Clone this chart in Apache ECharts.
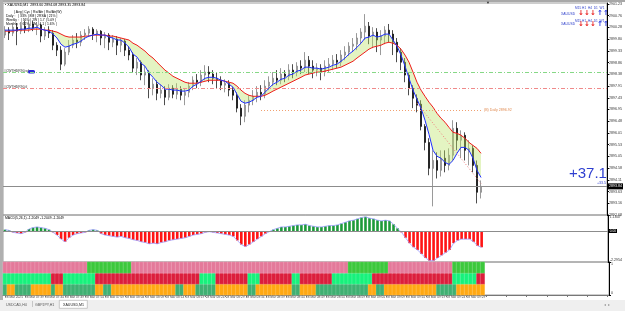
<!DOCTYPE html>
<html>
<head>
<meta charset="utf-8">
<script src="https://cdn.jsdelivr.net/npm/echarts@6/dist/echarts.min.js"></script>
<style>
html, body { margin: 0; padding: 0; background: #fff; }
#chart { width: 625px; height: 311px; }
</style>
</head>
<body>
<div id="chart"></div>
<script>
// ---- data ----
const priceMin = 2892.68, priceMax = 2901.27, priceStep = 0.475;

// [open, close, low, high]
const candles = [
  [2899.97, 2900.17, 2899.85, 2900.33], [2900.17, 2900.05, 2899.77, 2900.29], [2900.05, 2900.29, 2899.93, 2900.42],
  [2900.29, 2900.13, 2899.56, 2900.46], [2900.13, 2900.33, 2900.01, 2900.50], [2900.33, 2900.21, 2900.05, 2900.54],
  [2900.21, 2900.42, 2900.09, 2900.58], [2900.42, 2900.25, 2900.13, 2900.54], [2900.25, 2900.38, 2899.97, 2900.50],
  [2900.38, 2899.93, 2899.68, 2900.42], [2899.93, 2900.17, 2899.77, 2900.29], [2900.17, 2900.05, 2899.85, 2900.33],
  [2900.05, 2899.56, 2899.36, 2900.17], [2899.56, 2899.36, 2899.12, 2899.68], [2899.36, 2898.79, 2898.55, 2899.52],
  [2898.79, 2899.28, 2898.71, 2899.44], [2899.28, 2899.56, 2899.16, 2899.77], [2899.56, 2899.77, 2899.44, 2899.97],
  [2899.77, 2899.68, 2899.44, 2900.05], [2899.68, 2899.97, 2899.52, 2900.13], [2899.97, 2900.05, 2899.77, 2900.21],
  [2900.05, 2900.21, 2899.89, 2900.33], [2900.21, 2900.01, 2899.77, 2900.29], [2900.01, 2900.13, 2899.68, 2900.21],
  [2900.13, 2899.85, 2899.56, 2900.17], [2899.85, 2899.97, 2899.44, 2900.09], [2899.97, 2899.68, 2899.36, 2900.05],
  [2899.68, 2899.81, 2899.48, 2899.97], [2899.81, 2899.56, 2899.16, 2899.93], [2899.56, 2899.73, 2899.28, 2899.85],
  [2899.73, 2899.36, 2899.12, 2899.81], [2899.36, 2899.16, 2898.95, 2899.52], [2899.16, 2898.63, 2898.47, 2899.28],
  [2898.63, 2898.87, 2898.35, 2899.04], [2898.87, 2898.35, 2898.14, 2898.95], [2898.35, 2898.47, 2897.94, 2898.71],
  [2898.47, 2897.82, 2897.41, 2898.55], [2897.82, 2897.98, 2897.53, 2898.22], [2897.98, 2897.61, 2897.33, 2898.14],
  [2897.61, 2897.74, 2897.41, 2897.94], [2897.74, 2897.45, 2897.13, 2897.90], [2897.45, 2897.82, 2897.33, 2897.98],
  [2897.82, 2897.57, 2897.41, 2897.94], [2897.57, 2897.78, 2897.37, 2898.02], [2897.78, 2897.53, 2897.33, 2897.90],
  [2897.53, 2897.65, 2897.13, 2897.82], [2897.65, 2897.90, 2897.45, 2898.06], [2897.90, 2898.14, 2897.74, 2898.30],
  [2898.14, 2898.06, 2897.82, 2898.39], [2898.06, 2898.35, 2897.90, 2898.55], [2898.35, 2898.47, 2898.14, 2898.75],
  [2898.47, 2898.39, 2898.06, 2898.71], [2898.39, 2898.22, 2897.98, 2898.55], [2898.22, 2898.14, 2897.82, 2898.47],
  [2898.14, 2897.94, 2897.74, 2898.30], [2897.94, 2898.02, 2897.65, 2898.18], [2898.02, 2897.74, 2897.49, 2898.14],
  [2897.74, 2897.53, 2897.33, 2897.86], [2897.53, 2897.01, 2896.84, 2897.65], [2897.01, 2896.68, 2896.32, 2897.17],
  [2896.68, 2897.13, 2896.44, 2897.33], [2897.13, 2897.33, 2896.84, 2897.53], [2897.33, 2897.49, 2897.13, 2897.74],
  [2897.49, 2897.65, 2897.25, 2897.90], [2897.65, 2897.57, 2897.33, 2897.94], [2897.57, 2897.90, 2897.41, 2898.14],
  [2897.90, 2898.06, 2897.74, 2898.30], [2898.06, 2898.22, 2897.90, 2898.47], [2898.22, 2898.14, 2897.94, 2898.55],
  [2898.14, 2898.39, 2897.98, 2898.63], [2898.39, 2898.30, 2898.06, 2898.55], [2898.30, 2898.55, 2898.14, 2898.79],
  [2898.55, 2898.47, 2898.22, 2898.79], [2898.47, 2898.71, 2898.30, 2898.87], [2898.71, 2898.63, 2898.39, 2898.95],
  [2898.63, 2898.95, 2898.47, 2899.28], [2898.95, 2898.71, 2898.39, 2899.12], [2898.71, 2898.55, 2898.22, 2898.95],
  [2898.55, 2898.63, 2898.30, 2898.83], [2898.63, 2898.47, 2898.14, 2898.79], [2898.47, 2898.71, 2898.30, 2898.95],
  [2898.71, 2898.79, 2898.47, 2899.04], [2898.79, 2898.95, 2898.55, 2899.16], [2898.95, 2898.87, 2898.63, 2899.20],
  [2898.87, 2899.16, 2898.71, 2899.36], [2899.16, 2899.28, 2898.95, 2899.52], [2899.28, 2899.52, 2899.12, 2899.68],
  [2899.52, 2899.60, 2899.28, 2899.85], [2899.60, 2899.85, 2899.36, 2900.05], [2899.85, 2900.09, 2899.60, 2900.25],
  [2900.09, 2900.33, 2899.77, 2900.82], [2900.33, 2899.93, 2899.60, 2900.50], [2899.93, 2900.09, 2899.44, 2900.29],
  [2900.09, 2899.77, 2899.28, 2900.25], [2899.77, 2899.93, 2899.16, 2900.17], [2899.93, 2900.17, 2899.60, 2900.33],
  [2900.17, 2900.01, 2899.68, 2900.42], [2900.01, 2899.68, 2899.16, 2900.17], [2899.68, 2899.28, 2898.87, 2899.85],
  [2899.28, 2898.87, 2898.55, 2899.44], [2898.87, 2898.35, 2898.06, 2899.04], [2898.35, 2897.82, 2897.53, 2898.47],
  [2897.82, 2897.41, 2897.01, 2897.94], [2897.41, 2897.13, 2896.84, 2897.57], [2897.17, 2896.27, 2896.11, 2897.33],
  [2896.27, 2895.62, 2895.30, 2896.36], [2895.62, 2894.57, 2894.29, 2895.79], [2894.57, 2894.89, 2893.03, 2895.30],
  [2894.89, 2894.49, 2894.16, 2895.22], [2894.49, 2894.98, 2894.24, 2895.30], [2894.98, 2894.69, 2894.41, 2895.30],
  [2894.69, 2895.10, 2894.49, 2895.38], [2895.10, 2896.19, 2894.89, 2896.52], [2896.19, 2895.71, 2895.30, 2896.44],
  [2895.71, 2895.91, 2894.98, 2896.11], [2895.91, 2895.30, 2894.89, 2896.03], [2895.30, 2895.38, 2894.69, 2895.71],
  [2895.38, 2894.69, 2894.41, 2895.50], [2894.69, 2893.60, 2893.15, 2894.89], [2893.60, 2893.84, 2893.35, 2894.08]
];

const fastMa = [
  2900.17, 2900.17, 2900.17, 2900.17, 2900.21, 2900.21, 2900.25, 2900.25, 2900.29, 2900.21,
  2900.17, 2900.13, 2900.01, 2899.85, 2899.60, 2899.48, 2899.52, 2899.60, 2899.64, 2899.73,
  2899.85, 2899.93, 2899.97, 2900.01, 2899.97, 2899.97, 2899.89, 2899.85, 2899.77, 2899.77,
  2899.64, 2899.48, 2899.20, 2899.08, 2898.83, 2898.71, 2898.43, 2898.26, 2898.06, 2897.94,
  2897.78, 2897.78, 2897.74, 2897.74, 2897.70, 2897.70, 2897.74, 2897.90, 2897.98, 2898.10,
  2898.22, 2898.26, 2898.26, 2898.22, 2898.14, 2898.10, 2897.98, 2897.86, 2897.57, 2897.29,
  2897.21, 2897.25, 2897.33, 2897.45, 2897.49, 2897.65, 2897.82, 2897.98, 2898.06, 2898.18,
  2898.22, 2898.35, 2898.39, 2898.51, 2898.55, 2898.67, 2898.67, 2898.63, 2898.63, 2898.59,
  2898.63, 2898.67, 2898.75, 2898.79, 2898.91, 2899.04, 2899.20, 2899.32, 2899.48, 2899.64,
  2899.85, 2899.89, 2899.97, 2899.89, 2899.93, 2900.01, 2900.01, 2899.77, 2899.52, 2899.16,
  2898.71, 2898.22, 2897.74, 2897.37, 2897.01, 2896.52, 2895.95, 2895.30, 2895.06, 2894.98,
  2894.81, 2894.73, 2894.89, 2895.18, 2895.42, 2895.42, 2895.30, 2894.98, 2894.49, 2894.20
];

const slowMa = [
  2900.13, 2900.13, 2900.13, 2900.17, 2900.17, 2900.17, 2900.17, 2900.21, 2900.21, 2900.21,
  2900.17, 2900.17, 2900.13, 2900.09, 2900.01, 2899.93, 2899.89, 2899.89, 2899.89, 2899.89,
  2899.93, 2899.93, 2899.97, 2899.97, 2899.97, 2899.97, 2899.93, 2899.93, 2899.89, 2899.85,
  2899.81, 2899.77, 2899.64, 2899.56, 2899.44, 2899.32, 2899.16, 2899.04, 2898.87, 2898.71,
  2898.55, 2898.43, 2898.30, 2898.22, 2898.14, 2898.06, 2898.02, 2898.02, 2898.02, 2898.06,
  2898.10, 2898.14, 2898.14, 2898.14, 2898.14, 2898.10, 2898.06, 2898.02, 2897.90, 2897.74,
  2897.61, 2897.53, 2897.49, 2897.49, 2897.49, 2897.53, 2897.61, 2897.70, 2897.78, 2897.86,
  2897.94, 2898.02, 2898.10, 2898.18, 2898.26, 2898.35, 2898.39, 2898.43, 2898.47, 2898.47,
  2898.51, 2898.55, 2898.59, 2898.63, 2898.67, 2898.75, 2898.83, 2898.91, 2899.04, 2899.16,
  2899.28, 2899.40, 2899.48, 2899.52, 2899.56, 2899.64, 2899.68, 2899.64, 2899.56, 2899.40,
  2899.16, 2898.87, 2898.47, 2898.06, 2897.74, 2897.49, 2897.25, 2897.05, 2896.80, 2896.60,
  2896.44, 2896.23, 2896.03, 2895.99, 2895.91, 2895.79, 2895.62, 2895.50, 2895.38, 2895.18
];

const macdValues = [
  0.10, 0.05, -0.10, -0.15, -0.20, -0.10, 0.15, 0.25, 0.30, 0.25,
  0.20, 0.10, -0.10, -0.30, -0.60, -0.80, -0.50, -0.30, -0.20, -0.15,
  -0.10, 0.05, 0.10, 0.05, -0.20, -0.30, -0.35, -0.40, -0.45, -0.40,
  -0.50, -0.55, -0.65, -0.70, -0.80, -0.85, -0.95, -0.90, -0.95, -0.85,
  -0.80, -0.70, -0.65, -0.60, -0.55, -0.50, -0.40, -0.30, -0.25, -0.20,
  -0.10, -0.05, -0.10, -0.15, -0.20, -0.25, -0.30, -0.40, -0.70, -1.00,
  -1.15, -1.00, -0.80, -0.60, -0.40, -0.20, -0.05, 0.10, 0.20, 0.30,
  0.30, 0.35, 0.40, 0.45, 0.45, 0.50, 0.40, 0.35, 0.30, 0.30,
  0.35, 0.40, 0.40, 0.45, 0.55, 0.65, 0.75, 0.80, 0.90, 1.00,
  1.05, 0.95, 0.90, 0.80, 0.75, 0.80, 0.75, 0.50, 0.20, -0.10,
  -0.50, -0.90, -1.20, -1.40, -1.70, -2.00, -2.20, -2.20, -2.00, -1.80,
  -1.60, -1.40, -0.90, -0.70, -0.60, -0.60, -0.60, -0.80, -1.10, -1.2049
];
const macdTop = 1.1847, macdBottom = -2.2954;

// signal rows of the bottom window, 1 = second colour
const heatRow1 = [
  0,0,0,0,0,0,0,0,0,0, 0,0,0,0,0,0,0,0,0,0, 0,1,1,1,1,1,1,1,1,1, 1,1,0,0,0,0,0,0,0,0,
  0,0,0,0,0,0,0,0,0,0, 0,0,0,0,0,0,0,0,0,0, 0,0,0,0,0,0,0,0,0,0, 0,0,0,0,0,0,0,0,0,0,
  0,0,0,0,0,0,1,1,1,1, 1,1,1,1,1,1,0,0,0,0, 0,0,0,0,0,0,0,0,0,0, 0,0,1,1,1,1,1,1,1,1
];
const heatRow2 = [
  1,1,1,1,1,1,1,1,1,1, 1,1,0,0,0,1,1,1,1,1, 1,1,1,0,0,0,0,0,0,0, 0,0,0,0,0,0,0,0,0,0,
  0,0,0,0,0,0,0,0,0,1, 1,1,1,0,0,0,0,0,0,0, 0,1,1,1,0,0,0,0,0,0, 0,0,1,1,0,0,0,0,0,0,
  0,0,1,1,1,1,1,1,1,1, 1,1,0,0,0,0,0,0,0,0, 0,0,0,0,0,0,0,0,0,0, 0,0,1,1,1,1,1,1,0,0
];
const heatRow3 = [
  0,1,1,0,0,0,0,1,1,1, 1,1,0,1,1,0,0,0,0,0, 0,0,0,1,1,0,0,1,1,1, 1,1,1,1,1,1,1,1,1,1,
  1,1,1,0,0,1,1,1,0,0, 0,0,0,1,1,1,1,1,1,1, 1,0,0,1,1,1,1,1,1,1, 1,1,0,0,1,1,1,1,0,0,
  0,0,0,0,0,0,0,0,0,0, 0,1,1,0,0,1,1,1,1,1, 1,1,1,1,1,1,1,1,0,0, 0,0,0,1,1,1,1,1,1,1
];

// one time label every 5 bars
const timeLabels = [
  '28 Mar 2025', '28 Mar 07:39', '28 Mar 07:44', '28 Mar 07:49', '28 Mar 07:54', '28 Mar 07:59',
  '28 Mar 08:04', '28 Mar 08:09', '28 Mar 08:14', '28 Mar 08:19', '28 Mar 08:24', '28 Mar 08:29',
  '28 Mar 08:34', '28 Mar 08:39', '28 Mar 08:44', '28 Mar 08:49', '28 Mar 08:54', '28 Mar 08:59',
  '28 Mar 09:04', '28 Mar 09:09', '28 Mar 09:14', '28 Mar 09:19', '28 Mar 09:24', '28 Mar 09:29'
];

const levelGreen = 2898.47, levelRed = 2897.82, levelOrange = 2896.92, lastPrice = 2893.84;
// dotted trend line drawn on the fall: [bar, price] at both ends
const trendStart = [103, 2897.21], trendEnd = [119, 2893.96];
const totalSlots = 151;   // bars + empty chart shift on the right

// ---- build ----
const FONT = 'Liberation Sans';
const slots = [];
for (let i = 0; i < totalSlots; i++) {
  slots.push(i % 5 === 0 && i / 5 < timeLabels.length ? timeLabels[i / 5] : '');
}

const ribbonLow = fastMa.map((v, i) => Math.min(v, slowMa[i]));
const ribbonGap = fastMa.map((v, i) => Math.abs(v - slowMa[i]));

const heatData = [];
const rows = [heatRow3, heatRow2, heatRow1];
rows.forEach((row, r) => {
  row.forEach((v, i) => heatData.push([i, r, (2 - r) * 2 + v]));
});
const heatColors = ['#e4799a', '#3cc83c', '#dc1e3c', '#17f27c', '#3fb072', '#ffa812'];

function txt(x, y, text, size, color, family, weight) {
  return {
    type: 'text', left: x, top: y, silent: true,
    style: {
      text: text, fontSize: size, fill: color || '#000',
      fontFamily: family || FONT, fontWeight: weight || 'normal'
    }
  };
}

// trend arrows: three red down, two blue up, for each row
function arrowRow(y) {
  const out = [];
  [578, 584, 590].forEach(x => out.push(txt(x, y, '↓', 7, '#e81c1c', 'DejaVu Sans', 'bold')));
  [597, 603].forEach(x => out.push(txt(x, y, '↑', 7, '#2030e0', 'DejaVu Sans', 'bold')));
  return out;
}

const chart = echarts.init(document.getElementById('chart'));

const option = {
  animation: false,
  backgroundColor: '#fff',
  grid: [
    { left: 3, right: 16, top: 3, height: 212, show: true, borderColor: '#9c9c9c', borderWidth: 1 },
    { left: 3, right: 16, top: 215, height: 47, show: true, borderColor: '#9c9c9c', borderWidth: 1 },
    { left: 3, right: 16, top: 262, height: 33, show: true, borderColor: '#9c9c9c', borderWidth: 1 }
  ],
  xAxis: [0, 1, 2].map(g => ({
    type: 'category', gridIndex: g, data: slots, boundaryGap: true,
    axisLine: { show: g === 2, lineStyle: { color: '#777' } },
    axisTick: { show: g === 2, interval: 4, alignWithLabel: true, length: 2, lineStyle: { color: '#777' } },
    axisLabel: {
      show: g === 2, interval: 0, align: 'left', margin: 1,
      fontSize: 3.2, color: '#444', fontFamily: FONT
    },
    splitLine: { show: false }
  })),
  yAxis: [
    {
      type: 'value', gridIndex: 0, position: 'right', min: priceMin, max: priceMax, interval: priceStep,
      axisLine: { show: true, lineStyle: { color: '#000' } },
      axisTick: { show: true, length: 2, lineStyle: { color: '#000' } },
      axisLabel: {
        fontSize: 3.6, color: '#333', margin: 2, fontFamily: FONT, showMaxLabel: false,
        formatter: v => v.toFixed(2)
      },
      splitLine: { show: false }
    },
    {
      type: 'value', gridIndex: 1, position: 'right', min: macdBottom, max: macdTop,
      interval: macdTop - macdBottom,
      axisLine: { show: true, lineStyle: { color: '#000' } },
      axisTick: { show: true, length: 2, lineStyle: { color: '#000' } },
      axisLabel: {
        fontSize: 3.6, color: '#333', margin: 2, fontFamily: FONT,
        verticalAlignMaxLabel: 'top', verticalAlignMinLabel: 'bottom',
        formatter: v => v.toFixed(4)
      },
      splitLine: { show: false }
    },
    {
      type: 'category', gridIndex: 2, data: ['r3', 'r2', 'r1'],
      axisLine: { show: false }, axisTick: { show: false }, axisLabel: { show: false }
    },
    {
      type: 'value', gridIndex: 2, position: 'right', min: 0, max: 1, interval: 1,
      axisLine: { show: true, lineStyle: { color: '#000' } },
      axisTick: { show: true, length: 2, lineStyle: { color: '#000' } },
      axisLabel: {
        fontSize: 3.6, color: '#333', margin: 2, fontFamily: FONT,
        verticalAlignMaxLabel: 'top', verticalAlignMinLabel: 'bottom'
      },
      splitLine: { show: false }
    }
  ],
  visualMap: {
    type: 'piecewise', show: false, seriesIndex: 6, dimension: 2,
    pieces: heatColors.map((c, k) => ({ value: k, color: c }))
  },
  series: [
    {
      type: 'line', xAxisIndex: 0, yAxisIndex: 0, data: ribbonLow, stack: 'ribbon',
      symbol: 'none', lineStyle: { opacity: 0 }, silent: true
    },
    {
      type: 'line', xAxisIndex: 0, yAxisIndex: 0, data: ribbonGap, stack: 'ribbon',
      symbol: 'none', lineStyle: { opacity: 0 }, silent: true,
      areaStyle: { color: 'rgba(186, 226, 96, 0.55)' }
    },
    {
      type: 'candlestick', xAxisIndex: 0, yAxisIndex: 0, data: candles, barWidth: 1.8,
      itemStyle: { color: '#ffffff', color0: '#000', borderColor: '#6e6e6e', borderColor0: '#000', borderWidth: 0.7 },
      markLine: {
        silent: true, symbol: 'none',
        data: [
          { yAxis: levelGreen, lineStyle: { color: '#86d886', type: [4, 2, 1, 2], width: 1 }, label: { show: false } },
          { yAxis: levelRed, lineStyle: { color: '#f08a8a', type: [4, 2, 1, 2], width: 1 }, label: { show: false } },
          [
            { coord: [64, levelOrange], lineStyle: { color: '#f0a070', type: [1, 2], width: 1 }, label: { show: false } },
            { coord: [119, levelOrange] }
          ],
          [
            { coord: trendStart, lineStyle: { color: '#f07a7a', type: [1, 2], width: 1 }, label: { show: false } },
            { coord: trendEnd }
          ],
          {
            yAxis: lastPrice, lineStyle: { color: '#8c8c8c', type: 'solid', width: 1 },
            label: {
              show: true, position: 'end', distance: 1, formatter: lastPrice.toFixed(2),
              backgroundColor: '#000', color: '#fff', fontSize: 3.6, padding: [1, 1], fontFamily: FONT
            }
          }
        ]
      }
    },
    {
      type: 'line', xAxisIndex: 0, yAxisIndex: 0, data: slowMa, symbol: 'none',
      lineStyle: { color: '#f01c1c', width: 1 }
    },
    {
      type: 'line', xAxisIndex: 0, yAxisIndex: 0, data: fastMa, symbol: 'none',
      lineStyle: { color: '#1f2fff', width: 1 }
    },
    {
      type: 'bar', xAxisIndex: 1, yAxisIndex: 1, barWidth: 2.6,
      data: macdValues.map(v => ({ value: v, itemStyle: { color: v >= 0 ? '#1d9a3a' : '#ff1414' } })),
      markLine: {
        silent: true, symbol: 'none',
        data: [{
          yAxis: 0, lineStyle: { color: '#8c8c8c', type: 'solid', width: 1 },
          label: {
            show: true, position: 'end', distance: 1, formatter: '0.00',
            backgroundColor: '#000', color: '#fff', fontSize: 3.2, padding: [0.5, 1], fontFamily: FONT
          }
        }]
      }
    },
    {
      type: 'heatmap', xAxisIndex: 2, yAxisIndex: 2, data: heatData,
      itemStyle: { borderColor: 'rgba(255,255,255,0.35)', borderWidth: 0.5 }
    },
    {
      type: 'line', xAxisIndex: 1, yAxisIndex: 1, data: macdValues, symbol: 'none',
      lineStyle: { color: '#9a9aff', width: 0.8 }
    }
  ],
  graphic: [
    { type: 'rect', left: 0, top: 0, shape: { width: 625, height: 2 }, style: { fill: '#a8a8a8' }, silent: true },
    { type: 'rect', left: 0, top: 0, shape: { width: 3, height: 300 }, style: { fill: '#b0b0b0' }, silent: true },
    { type: 'rect', left: 0, top: 300, shape: { width: 625, height: 11 }, style: { fill: '#efefef' }, silent: true },
    { type: 'rect', left: 59, top: 300, shape: { width: 28, height: 8 }, style: { fill: '#fff', stroke: '#aaa', lineWidth: 0.6 }, silent: true },
    txt(6, 303, 'USDCAD,H4', 3.6, '#555'),
    { type: 'rect', left: 32, top: 301, shape: { width: 0.6, height: 6 }, style: { fill: '#aaa' }, silent: true },
    txt(35, 303, 'GBPJPY,H1', 3.6, '#555'),
    txt(63, 303, 'XAUUSD,M1', 3.6, '#222'),
    txt(604, 303, '◂  ▸', 4, '#999'),
    txt(486, 1, '▼', 4, '#333'),
    // header
    txt(5, 3, '▪ XAUUSD,M1  2893.60 2894.08 2893.35 2893.84', 3.6, '#000'),
    txt(14, 11, '| Avg | Cyc | Rsi/Atr | Rsi/Atr(W)', 3.4, '#000'),
    txt(6, 15, 'Daily :   | 33% | 8M | 2RSA | 21% |', 3.4, '#000'),
    txt(6, 19, 'Weekly :  | 56% | 2W | 1.7 | 5.09 |', 3.4, '#000'),
    txt(6, 23, 'Monthly : | 61% | 2M | 4.1 | 1.6% |', 3.4, '#000'),
    // indicator labels
    txt(5, 217, 'MACD(5,26,1) -1.2049 -1.2049 -1.2049', 3.4, '#000'),
    txt(5, 264, 'FX CCI(5,1) 1.0000 1.0000 1.0000', 3.4, '#000'),
    // objects on the price window
    txt(4, 70, '#CW7HDR90.wf', 3.4, '#333'),
    { type: 'rect', left: 28, top: 70, shape: { width: 7, height: 3.5, r: 1.5 }, style: { fill: '#2a2ad8' }, silent: true },
    txt(4, 86, '#CW7HDR90.tl', 3.4, '#333'),
    txt(484, 108, '(B) Daily 2896.92', 3.6, '#e08a50'),
    txt(569, 166, '+37.1', 15, '#2e3fd0'),
    txt(597, 181, '+33.5', 3.6, '#2e3fd0'),
    // trend panel
    txt(575, 7, 'M15 H1  H4  D1  W1', 3.2, '#3344cc'),
    txt(561, 13, 'XAUUSD', 3.4, '#3344cc'),
    txt(575, 20, 'M15 H1  H4  D1  W1', 3.2, '#3344cc'),
    txt(561, 23, 'XAUUSD', 3.4, '#3344cc')
  ].concat(arrowRow(10), arrowRow(21))
};

chart.setOption(option);
</script>
</body>
</html>
